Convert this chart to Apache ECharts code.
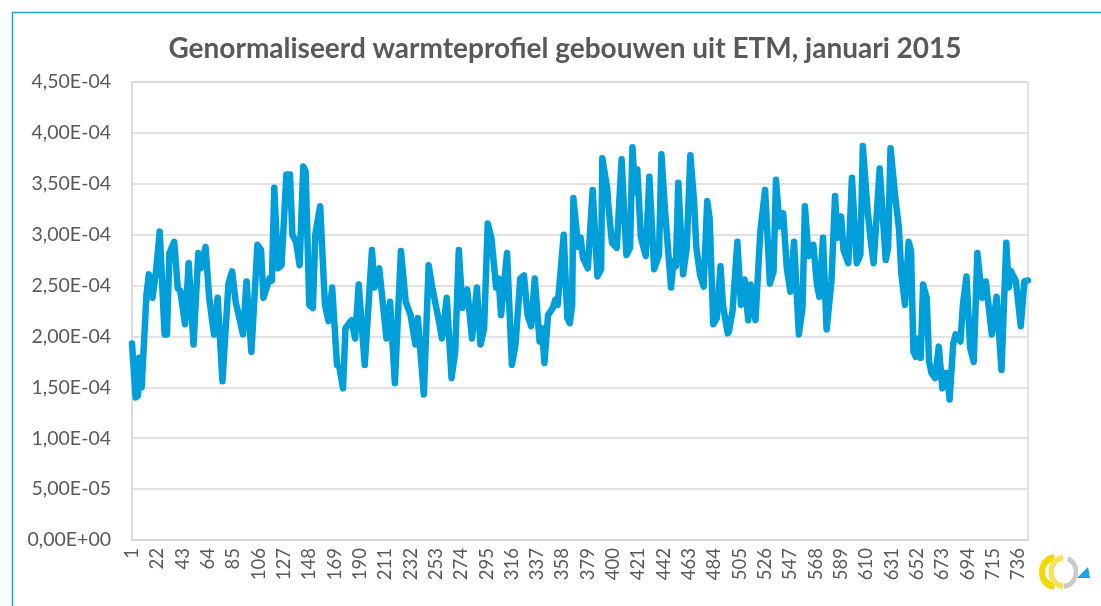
<!DOCTYPE html>
<html>
<head>
<meta charset="utf-8">
<script src="https://cdn.jsdelivr.net/npm/echarts@6/dist/echarts.min.js"></script>
<style>
html,body{margin:0;padding:0;background:#fff;}
#chart{width:1101px;height:606px;}
</style>
</head>
<body>
<div id="chart"></div>
<script>
// Title
const titleText = 'Genormaliseerd warmteprofiel gebouwen uit ETM, januari 2015';

const hours = [
  1,4,6,7,9,13,15,18,21,24,28,30,32,36,39,41,45,48,52,56,58,62,65,69,72,76,81,84,87,93,96,100,105,108,110,115,117,119,122,
  125,129,132,134,137,140,143,145,148,151,153,157,161,164,167,171,173,176,178,183,186,189,194,200,202,206,212,215,219,224,228,232,236,238,243,247,
  250,256,258,262,266,269,272,275,279,283,287,290,293,296,299,303,305,307,312,316,319,323,326,329,332,335,339,341,343,346,350,352,354,359,362,364,366,367,371,
  373,375,379,383,387,390,391,395,396,399,403,407,411,414,416,418,420,423,427,430,434,438,440,443,448,450,452,454,458,461,464,467,469,472,475,478,480,483,486,489,491,495,
  496,499,503,506,509,512,514,518,522,526,530,533,535,538,541,544,547,550,554,557,559,562,566,569,571,574,577,581,584,586,589,591,595,598,602,605,607,611,614,616,
  621,626,628,630,634,637,639,642,645,647,649,651,653,655,657,660,662,664,667,670,673,675,677,679,682,684,688,690,693,696,699,702,706,709,714,718,722,726,728,730,734,738,741,744
];

// Values (same order as hours)
const values = [
  1.93e-4,1.40e-4,1.42e-4,1.79e-4,1.50e-4,2.41e-4,2.61e-4,2.38e-4,2.65e-4,3.03e-4,2.02e-4,2.02e-4,2.82e-4,2.93e-4,2.47e-4,2.45e-4,2.12e-4,2.72e-4,1.92e-4,2.82e-4,2.67e-4,2.88e-4,2.38e-4,2.02e-4,2.38e-4,1.56e-4,2.52e-4,2.64e-4,2.34e-4,2.02e-4,2.54e-4,1.85e-4,2.90e-4,2.85e-4,2.38e-4,2.57e-4,2.55e-4,3.46e-4,2.67e-4,
  2.70e-4,3.59e-4,3.59e-4,3.00e-4,2.93e-4,2.70e-4,3.67e-4,3.62e-4,2.31e-4,2.28e-4,3.00e-4,3.28e-4,2.31e-4,2.15e-4,2.48e-4,1.72e-4,1.70e-4,1.49e-4,2.08e-4,2.16e-4,1.98e-4,2.51e-4,1.72e-4,2.85e-4,2.48e-4,2.67e-4,1.98e-4,2.34e-4,1.54e-4,2.84e-4,2.34e-4,2.21e-4,1.92e-4,2.18e-4,1.43e-4,2.70e-4,
  2.48e-4,2.12e-4,1.98e-4,2.38e-4,1.59e-4,1.85e-4,2.85e-4,2.28e-4,2.46e-4,1.98e-4,2.48e-4,1.92e-4,2.08e-4,3.11e-4,2.97e-4,2.48e-4,2.57e-4,2.21e-4,2.82e-4,1.72e-4,1.92e-4,2.57e-4,2.60e-4,2.21e-4,2.10e-4,2.57e-4,1.95e-4,2.08e-4,1.74e-4,2.21e-4,2.28e-4,2.36e-4,2.31e-4,3.00e-4,2.18e-4,2.13e-4,2.31e-4,3.36e-4,2.88e-4,
  2.97e-4,2.77e-4,2.67e-4,3.44e-4,2.59e-4,2.66e-4,3.75e-4,3.46e-4,3.29e-4,2.92e-4,2.87e-4,3.74e-4,2.80e-4,2.87e-4,3.86e-4,3.42e-4,3.64e-4,2.97e-4,2.79e-4,3.57e-4,2.66e-4,2.80e-4,3.79e-4,3.24e-4,2.48e-4,2.74e-4,2.69e-4,3.51e-4,2.61e-4,2.87e-4,3.78e-4,3.34e-4,2.87e-4,2.61e-4,2.49e-4,3.33e-4,3.16e-4,2.12e-4,2.18e-4,2.69e-4,2.31e-4,2.03e-4,
  2.05e-4,2.25e-4,2.93e-4,2.31e-4,2.56e-4,2.16e-4,2.51e-4,2.16e-4,3.03e-4,3.44e-4,2.52e-4,2.64e-4,3.54e-4,3.08e-4,3.21e-4,2.67e-4,2.44e-4,2.93e-4,2.02e-4,2.28e-4,3.28e-4,2.79e-4,2.90e-4,2.51e-4,2.39e-4,2.97e-4,2.07e-4,2.54e-4,3.38e-4,2.97e-4,3.18e-4,2.85e-4,2.72e-4,3.56e-4,2.72e-4,2.80e-4,3.87e-4,3.24e-4,2.90e-4,2.72e-4,
  3.65e-4,2.75e-4,2.87e-4,3.85e-4,3.36e-4,3.06e-4,2.61e-4,2.31e-4,2.93e-4,2.84e-4,1.85e-4,1.80e-4,1.98e-4,1.79e-4,2.51e-4,2.38e-4,1.75e-4,1.64e-4,1.59e-4,1.90e-4,1.49e-4,1.64e-4,1.64e-4,1.38e-4,1.93e-4,2.02e-4,1.95e-4,2.31e-4,2.59e-4,1.89e-4,1.75e-4,2.82e-4,2.38e-4,2.54e-4,2.02e-4,2.39e-4,1.67e-4,2.92e-4,2.48e-4,2.64e-4,2.54e-4,2.10e-4,2.54e-4,2.55e-4
];

// Category axis: hours of January (31 days x 24 h)
const hourCount = 744;
const categories = [];
for (let h = 1; h <= hourCount; h++) categories.push(String(h));

// Y axis range
const yMin = 0, yMax = 4.5e-4, yStep = 5e-5;

const textColor = '#595959';
const lineColor = '#009fda';
const gridColor = '#d9d9d9';
const frameColor = '#19a3dd';
const fontFam = 'Lato, "Open Sans", sans-serif';

function fmtSci(v) {
  const s = Number(v).toExponential(2);
  const parts = s.split('e');
  const mant = parts[0].replace('.', ',');
  let ex = parseInt(parts[1], 10);
  const sign = ex < 0 ? '-' : '+';
  ex = Math.abs(ex);
  return mant + 'E' + sign + (ex < 10 ? '0' + ex : String(ex));
}

const chart = echarts.init(document.getElementById('chart'), null, {renderer: 'canvas'});
chart.setOption({
  animation: false,
  backgroundColor: '#ffffff',
  grid: {
    left: 132, right: 73, top: 82, bottom: 66,
    containLabel: false, outerBoundsMode: 'none',
    show: true, borderColor: gridColor, borderWidth: 1.5, backgroundColor: 'transparent'
  },
  xAxis: {
    type: 'category',
    data: categories,
    boundaryGap: false,
    axisLine: {show: true, lineStyle: {color: gridColor, width: 1.5}},
    axisTick: {show: false},
    splitLine: {show: false},
    axisLabel: {
      interval: 20, rotate: 90, margin: 8,
      color: textColor, fontFamily: fontFam, fontSize: 18.5
    }
  },
  yAxis: {
    type: 'value',
    min: yMin, max: yMax, interval: yStep,
    axisLine: {show: true, lineStyle: {color: gridColor, width: 1.5}},
    axisTick: {show: false},
    splitLine: {show: true, lineStyle: {color: gridColor, width: 1.5}},
    axisLabel: {
      margin: 21, color: textColor, fontFamily: fontFam, fontSize: 19.5,
      formatter: fmtSci
    }
  },
  series: [{
    type: 'line',
    data: hours.map((h, k) => [h - 1, values[k]]),
    showSymbol: false,
    symbol: 'none',
    smooth: false,
    lineStyle: {color: lineColor, width: 6.5, cap: 'round', join: 'round'},
    silent: true
  }],
  graphic: [
    {type: 'line', shape: {x1: 12, y1: 12.5, x2: 1101, y2: 12.5}, style: {stroke: frameColor, lineWidth: 1.5}, silent: true},
    {type: 'line', shape: {x1: 12.5, y1: 12, x2: 12.5, y2: 606}, style: {stroke: frameColor, lineWidth: 1.5}, silent: true},
    {type: 'text', x: 565, y: 49, style: {
      text: titleText, align: 'center', verticalAlign: 'middle',
      fill: textColor, font: 'bold 28px ' + fontFam
    }, silent: true},
    // logo
    {type: 'arc', originX: 1054, originY: 572, scaleY: 1.17,
      shape: {cx: 1054, cy: 572, r: 12, startAngle: Math.PI * 0.5, endAngle: Math.PI * 1.5},
      style: {stroke: '#f3da00', lineWidth: 6, fill: null}, silent: true},
    {type: 'arc', originX: 1063, originY: 572, scaleY: 1.17,
      shape: {cx: 1063, cy: 572, r: 12, startAngle: Math.PI * 0.5, endAngle: Math.PI * 1.5},
      style: {stroke: '#f5e35a', lineWidth: 5, fill: null}, silent: true},
    {type: 'arc', originX: 1064, originY: 572, scaleY: 1.17,
      shape: {cx: 1064, cy: 572, r: 12, startAngle: -Math.PI * 0.4, endAngle: Math.PI * 0.5},
      style: {stroke: '#c9c9c9', lineWidth: 4.5, fill: null}, silent: true},
    {type: 'polygon', shape: {points: [[1077, 578], [1090, 578], [1088, 567]]}, style: {fill: '#1aa3e0'}, silent: true}
  ]
});
</script>
</body>
</html>
